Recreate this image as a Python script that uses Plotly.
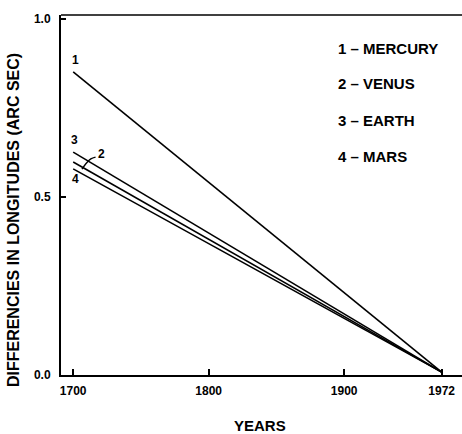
import plotly.graph_objects as go

# Data
years = [1700, 1972]
mercury = [0.851, 0.008]
venus = [0.598, 0.008]
earth = [0.626, 0.008]
mars = [0.579, 0.008]
series_names = ["MERCURY", "VENUS", "EARTH", "MARS"]
series_vals = [mercury, venus, earth, mars]
x_ticks = [1700, 1800, 1900, 1972]
y_ticks = [0.0, 0.5, 1.0]
y_tick_labels = ["0.0", "0.5", "1.0"]

FONT = "Liberation Sans, Arial, sans-serif"

fig = go.Figure()
for name, vals in zip(series_names, series_vals):
    fig.add_trace(go.Scatter(x=years, y=vals, mode="lines", name=name,
                             line=dict(color="black", width=1.6), showlegend=False))

# leader curve for label 2
fig.add_trace(go.Scatter(x=[1706.5, 1709.5, 1713, 1716.5], y=[0.578, 0.594, 0.607, 0.612],
                         mode="lines", line=dict(color="black", width=1.4, shape="spline"),
                         showlegend=False, hoverinfo="skip"))

ann = []
# curve number labels
ann.append(dict(x=years[0] + 2, y=mercury[0] + 0.033, text="1"))
ann.append(dict(x=years[0] + 1, y=earth[0] + 0.033, text="3"))
ann.append(dict(x=years[0] + 21, y=venus[0] + 0.022, text="2"))
ann.append(dict(x=years[0] + 2, y=mars[0] - 0.028, text="4"))
for a in ann:
    a.update(xref="x", yref="y", showarrow=False,
             font=dict(family=FONT, size=12, color="black", weight="bold"),
             xanchor="center", yanchor="middle")
    fig.add_annotation(**a)

# legend text
leg_y = [0.908, 0.811, 0.708, 0.608]
for i, (name, yy) in enumerate(zip(series_names, leg_y)):
    fig.add_annotation(x=0.685, y=yy, xref="paper", yref="paper", xanchor="left", yanchor="middle",
                       text=f"{i+1} \u2013 {name}", showarrow=False,
                       font=dict(family=FONT, size=15, color="black", weight="bold"))

# axis titles
fig.add_annotation(x=-0.12, y=0.43, xref="paper", yref="paper", textangle=-90,
                   xanchor="center", yanchor="middle",
                   text="DIFFERENCIES IN LONGITUDES (ARC SEC)", showarrow=False,
                   font=dict(family=FONT, size=16, color="black", weight="bold"))
fig.add_annotation(x=0.496, y=-0.139, xref="paper", yref="paper", yanchor="middle",
                   text="YEARS", showarrow=False,
                   font=dict(family=FONT, size=15, color="black", weight="bold"))

# top frame line
fig.add_shape(type="line", xref="paper", yref="paper", x0=0, x1=1, y0=1, y1=1,
              line=dict(color="black", width=1.5))

fig.update_xaxes(range=[1691, 1987], tickvals=x_ticks, ticktext=[str(t) for t in x_ticks],
                 showgrid=False, zeroline=False, showline=True, linecolor="black", linewidth=2,
                 ticks="inside", ticklen=6, tickwidth=2, tickcolor="black",
                 tickfont=dict(family=FONT, size=12, color="black", weight="bold"),
                 ticklabelstandoff=4)
fig.update_yaxes(range=[0, 1.011], tickvals=y_ticks, ticktext=y_tick_labels,
                 showgrid=False, zeroline=False, showline=True, linecolor="black", linewidth=2,
                 ticks="inside", ticklen=5, tickwidth=2, tickcolor="black",
                 tickfont=dict(family=FONT, size=12, color="black", weight="bold"),
                 ticklabelstandoff=6)

fig.update_layout(width=462, height=434, margin=dict(l=61, r=0, t=15, b=59),
                  plot_bgcolor="white", paper_bgcolor="white", showlegend=False)

fig.write_html("out.html", config={"displayModeBar": False},
               post_script="document.body.style.margin='0';")
